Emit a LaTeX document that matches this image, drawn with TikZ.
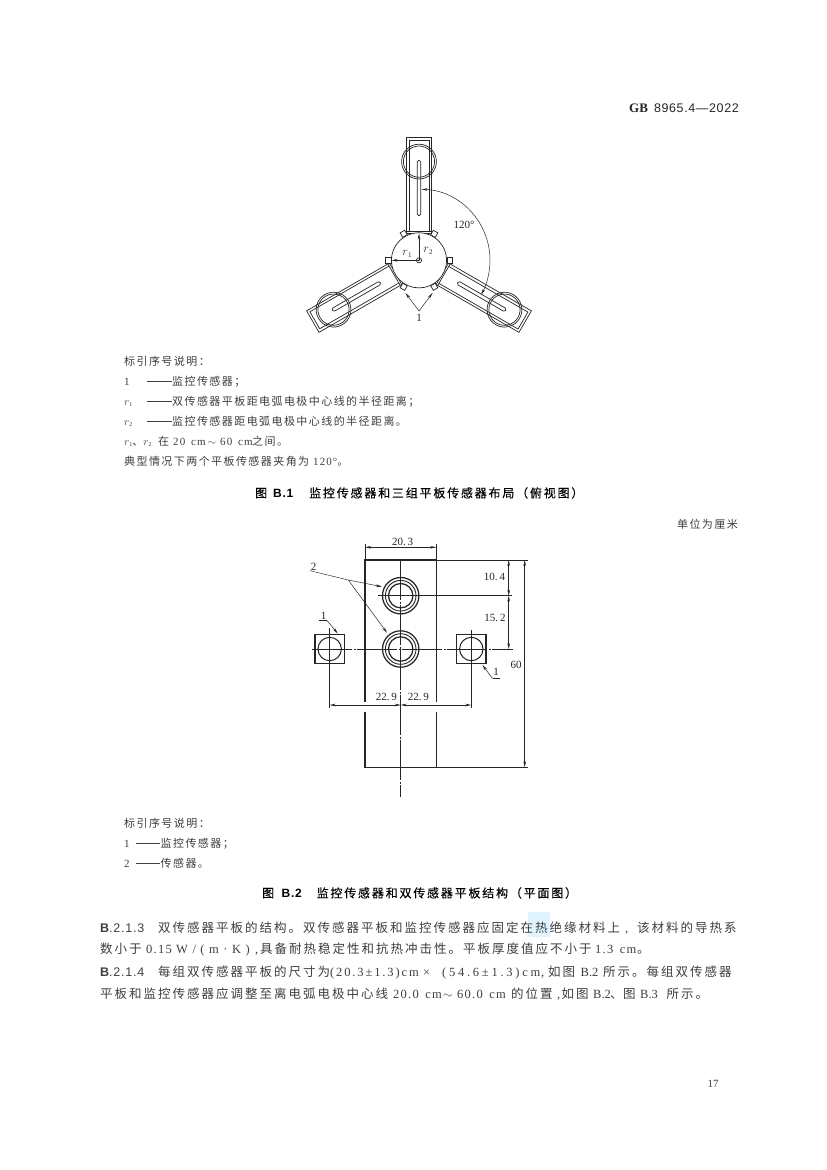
\documentclass[tikz,border=0pt]{standalone}
\usepackage{fontspec}
\setmainfont{Liberation Serif}
\newfontfamily\zhbody[LetterSpace=16]{Noto Sans CJK SC}
\newfontfamily\zhleg[LetterSpace=13]{Noto Sans CJK SC}
\newfontfamily\zhcap[LetterSpace=15,FakeBold=0.25]{Noto Sans CJK SC}
\newfontfamily\latsp[LetterSpace=10,WordSpace=1.3]{Liberation Serif}
\newfontfamily\latmid[LetterSpace=15]{Liberation Serif}
\newfontfamily\latwide[LetterSpace=22]{Liberation Serif}
\newfontfamily\latvw[LetterSpace=36]{Liberation Serif}
\newfontfamily\latleg[LetterSpace=10,WordSpace=1.5]{Liberation Serif}
\newfontfamily\latb[LetterSpace=5]{Liberation Sans}
\newfontfamily\latbb[LetterSpace=6]{Liberation Sans}
\newcommand\zb[1]{{\zhbody #1}}
\newcommand\zl[1]{{\zhleg #1}}
\newcommand\zc[1]{{\zhcap #1}}
\newcommand\ls[1]{{\latsp #1}}
\newcommand\lw[1]{{\latwide #1}}
\newcommand\lgd[1]{{\latleg #1}}
\newcommand\fullcolon{\symbol{"FF1A}}
\newcommand\fullsemi{\symbol{"FF1B}}
\newcommand\fullopen{\symbol{"FF08}}
\newcommand\fullclose{\symbol{"FF09}}
\newcommand\rsub[1]{$r$\raisebox{-1.5pt}{\fontsize{6}{7}\selectfont #1}}
\usetikzlibrary{arrows.meta}
\definecolor{ink}{HTML}{262626}
\definecolor{soft}{HTML}{3E3E3E}
\tikzset{
  ln/.style={draw=ink,line width=0.7pt},
  thin line/.style={draw=ink,line width=0.45pt},
  hv/.style={draw=ink,line width=1.25pt},
  dim/.style={draw=ink,line width=0.5pt,{Stealth[length=6pt,width=2.6pt]}-{Stealth[length=6pt,width=2.6pt]}},
  lead/.style={draw=ink,line width=0.5pt,-{Stealth[length=6pt,width=2.6pt]}},
  cen/.style={draw=ink,line width=0.45pt,dash pattern=on 40pt off 1.5pt on 2pt off 1.5pt},
  bodyt/.style={anchor=base west,inner sep=0,text=soft,font=\fontsize{12.5}{14}\selectfont},
  legt/.style={anchor=base west,inner sep=0,text=soft,font=\fontsize{11}{12}\selectfont},
  capt/.style={anchor=base west,inner sep=0,text=black,font=\fontsize{12}{14}\selectfont},
  lab/.style={inner sep=0,text=ink,font=\fontsize{11}{12}\selectfont},
}
\begin{document}
\begin{tikzpicture}[x=1pt,y=-1pt]
\useasboundingbox (0,0) rectangle (827,1170);
\fill[white] (0,0) rectangle (827,1170);
% header
\node[anchor=base west,inner sep=0,text=ink,font=\fontsize{13}{14}\selectfont\bfseries] (hdr1) at (629,112) {GB};
\node[anchor=base east,inner sep=0,text=ink,font=\fontsize{12.5}{14}\selectfont] (hdr2) at (739,112) {{\latb 8965.4—2022}};
% ---------- Figure B.1
\coordinate (c1) at (419,260.3);
\foreach \a in {0,120,240}{
 \begin{scope}[shift={(c1)},rotate=\a]
  \draw[ln] (-12.4,-27) rectangle (12.4,-122.6);
  \draw[ln] (-9.6,-28.8) -- (-9.6,-120.2) -- (10,-120.2) -- (10,-28.8);
  \draw[ln] (-12.4,-28.8) -- (12.4,-28.8);
  \draw[ln,rounded corners=1.5pt] (-1.8,-100) rectangle (1.8,-44.7);
  \draw[ln] (0,-98.7) circle (17.4);
  \draw[ln] (0,-98.7) circle (15.6);
 \end{scope}
}
\draw[ln,fill=white] (c1) circle (27.6);
\foreach \a in {30,90,150,210,270,330}{
 \begin{scope}[shift={(c1)},rotate=\a+60]
  \draw[ln,fill=white] (-2.6,-33.2) rectangle (2.6,-28);
 \end{scope}
}
\draw[ln] (c1) circle (2.6);
\fill[ink] (c1) circle (0.9);
\coordinate (r1e) at (391.5,260.3);
\coordinate (r2e) at (419,233.5);
\draw[lead] (c1) -- (r1e);
\draw[lead] (c1) -- (r2e);
\node[lab] (r1l) at (407,254) {\fontsize{12}{12}\selectfont$r$\raisebox{-2pt}{\fontsize{7}{8}\selectfont 1}};
\node[lab] (r2l) at (428,251) {\fontsize{12}{12}\selectfont$r$\raisebox{-2pt}{\fontsize{7}{8}\selectfont 2}};
\draw[dim] ([shift={(-88:71)}]c1) arc[start angle=-88,end angle=29,radius=71];
\node[lab] (ang) at (464,225) {120°};
\node[lab] (one) at (419,318) {1};
\coordinate (ja) at (419,311);
\coordinate (jb) at (405.5,293);
\coordinate (jc) at (432.5,293);
\draw[lead] (ja) -- (jb);
\draw[lead] (ja) -- (jc);
% legend 1
\node[legt] (l1) at (124,365) {\zl{标引序号说明\fullcolon}};
\node[legt] (l2a) at (124,385) {1};
\node[legt] (l2d) at (147,385) {\rule[3.2pt]{24.5pt}{0.45pt}};
\node[legt] (l2) at (172,385) {\zl{监控传感器\fullsemi}};
\node[legt] (l3a) at (124,405) {\rsub{1}};
\node[legt] (l3d) at (147,405) {\rule[3.2pt]{24.5pt}{0.45pt}};
\node[legt] (l3) at (172,405) {\zl{双传感器平板距电弧电极中心线的半径距离\fullsemi}};
\node[legt] (l4a) at (124,425) {\rsub{2}};
\node[legt] (l4d) at (147,425) {\rule[3.2pt]{24.5pt}{0.45pt}};
\node[legt] (l4) at (172,425) {\zl{监控传感器距电弧电极中心线的半径距离。}};
\node[legt] (l5a) at (124,445) {\rsub{1}\zl{、}\rsub{2}};
\node[legt] (l5b) at (158,445) {\zl{在}};
\node[legt] (l5c) at (173,445) {\lgd{20 cm}};
\node[legt] (l5d) at (207.5,445) {$\sim$};
\node[legt] (l5e) at (220,445) {\lgd{60 cm}};
\node[legt] (l5f) at (252,445) {\zl{之间。}};
\node[legt] (l6) at (124,465) {\zl{典型情况下两个平板传感器夹角为}};
\node[legt] (l6b) at (313,465) {\lgd{120°}\zl{。}};
\node[capt] (cap1a) at (255,497.5) {\zc{图}};
\node[capt] (cap1b) at (273,497.5) {{\latbb\bfseries B.1}};
\node[capt] (cap1c) at (309,497.5) {\zc{监控传感器和三组平板传感器布局\fullopen 俯视图\fullclose}};
\node[anchor=base east,inner sep=0,text=soft,font=\fontsize{11}{12}\selectfont] (unit) at (738,528) {\zl{单位为厘米}};
% ---------- Figure B.2
\coordinate (cu) at (400.7,595.7);
\coordinate (cl) at (400.7,649);
\coordinate (sl) at (329.7,649);
\coordinate (sr) at (471.3,649);
\draw[hv] (365,702.3) -- (365,560) -- (436.3,560) -- (436.3,702.3);
\draw[hv] (365,711.7) -- (365,767.3) -- (436.3,767.3) -- (436.3,711.7);
\draw[cen] (400.7,560) -- (400.7,796.7);
\draw[cen] (312,649) -- (512.7,649);
\draw[thin line] (378,595.7) -- (511.7,595.7);
\foreach \p in {cu,cl}{
  \draw[hv] (\p) circle (18.2);
  \draw[ln,line width=0.9pt] (\p) circle (15.3);
  \draw[hv] (\p) circle (12.2);
}
\draw[hv] (315,634.3) rectangle (344.3,663.7);
\draw[hv] (456.7,634.3) rectangle (486,663.7);
\draw[hv,line width=1pt] (sl) circle (11.7);
\draw[hv,line width=1pt] (sr) circle (11.7);
\draw[thin line] (329.7,628) -- (329.7,708);
\draw[thin line] (471.3,630) -- (471.3,708);
% dimensions
\draw[thin line] (365,544) -- (365,560);
\draw[thin line] (436.3,544) -- (436.3,560);
\draw[dim] (365,547.3) -- (436.3,547.3);
\node[lab] (d203) at (402.7,541.7) {20.\,3};
\draw[thin line] (436.3,560) -- (527.5,560);
\draw[thin line] (436.3,767.3) -- (528,767.3);
\draw[dim] (524.7,560) -- (524.7,767.3);
\draw[dim] (508.7,560) -- (508.7,595.7);
\draw[dim] (508.7,595.7) -- (508.7,649);
\node[lab] (d104) at (494.5,576.7) {10.\,4};
\node[lab] (d152) at (495,617.7) {15.\,2};
\node[lab] (d60) at (516,664.7) {60};
\draw[dim] (329.7,705) -- (400.7,705);
\draw[dim] (400.7,705) -- (471.3,705);
\node[lab] (d229a) at (386.3,697.3) {22.\,9};
\node[lab] (d229b) at (418.3,697.3) {22.\,9};
% leaders
\node[lab] (n1a) at (323.7,616) {1};
\node[lab] (n1b) at (496,672.3) {1};
\node[lab] (n2) at (313.7,566.5) {2};
\coordinate (a0) at (318.5,620);
\coordinate (a1) at (326.5,620);
\coordinate (a2) at (337.8,633.5);
\draw[thin line] (a0) -- (a1);
\draw[lead] (a1) -- (a2);
\coordinate (b0) at (499.5,678.5);
\coordinate (b1) at (492.5,678.5);
\coordinate (b2) at (482.5,665);
\draw[thin line] (b0) -- (b1);
\draw[lead] (b1) -- (b2);
\coordinate (e0) at (310,570.7);
\coordinate (e1) at (348.3,580);
\coordinate (e2) at (382,586.7);
\coordinate (e3) at (387,632.7);
\draw[thin line] (e0) -- (e1);
\draw[lead] (e1) -- (e2);
\draw[lead] (e1) -- (e3);
% legend 2
\node[legt] (m1) at (124,827) {\zl{标引序号说明\fullcolon}};
\node[legt] (m2a) at (124,847) {1};
\node[legt] (m2d) at (136,847) {\rule[3.2pt]{23.5pt}{0.45pt}};
\node[legt] (m2) at (160.5,847) {\zl{监控传感器\fullsemi}};
\node[legt] (m3a) at (124,867) {2};
\node[legt] (m3d) at (136,867) {\rule[3.2pt]{23.5pt}{0.45pt}};
\node[legt] (m3) at (160.5,867) {\zl{传感器。}};
\node[capt] (cap2a) at (262,897.5) {\zc{图}};
\node[capt] (cap2b) at (281.5,897.5) {{\latbb\bfseries B.2}};
\node[capt] (cap2c) at (316.5,897.5) {\zc{监控传感器和双传感器平板结构\fullopen 平面图\fullclose}};
% body
\fill[blue!35!cyan!12] (528,912) rectangle (550,937);
\node[bodyt] (b1a) at (100,932) {{\latbb\bfseries B}{\latbb .2.1.3}};
\node[bodyt] (b1b) at (158,932) {\zb{双传感器平板的结构。双传感器平板和监控传感器应固定在热绝缘材料上}};
\node[bodyt] (b1c) at (625,932) {\ls{,}};
\node[bodyt] (b1d) at (637,932) {\zb{该材料的导热系}};
\node[bodyt] (b2a) at (100,953.5) {\zb{数小于}};
\node[bodyt] (b2b) at (146,953.5) {\ls{0.15}};
\node[bodyt] (b2c) at (176,953.5) {{\latvw W/(m·K)}};
\node[bodyt] (b2d) at (255,953.5) {\ls{,}};
\node[bodyt] (b2e) at (260,953.5) {\zb{具备耐热稳定性和抗热冲击性。平板厚度值应不小于}};
\node[bodyt] (b2f) at (595,953.5) {\ls{1.3 cm}};
\node[bodyt] (b2g) at (637,953.5) {\zb{。}};
\node[bodyt] (b3a) at (100,976) {{\latbb\bfseries B}{\latbb .2.1.4}};
\node[bodyt] (b3b) at (158,976) {\zb{每组双传感器平板的尺寸为}};
\node[bodyt] (b3c) at (330,976) {{\latmid (20.3±1.3)cm}};
\node[bodyt] (b3d) at (423,976) {\ls{×}};
\node[bodyt] (b3e) at (442,976) {\lw{(54.6±1.3)cm}};
\node[bodyt] (b3f) at (541,976) {\ls{,}};
\node[bodyt] (b3g) at (548,976) {\zb{如图}};
\node[bodyt] (b3h) at (580.5,976) {B.2};
\node[bodyt] (b3i) at (603,976) {\zb{所示。每组双传感器}};
\node[bodyt] (b4a) at (100,998) {\zb{平板和监控传感器应调整至离电弧电极中心线}};
\node[bodyt] (b4b) at (393,998) {\ls{20.0 cm}};
\node[bodyt] (b4c) at (443,998) {$\sim$};
\node[bodyt] (b4d) at (457,998) {\ls{60.0 cm}};
\node[bodyt] (b4e) at (511,998) {\zb{的位置}};
\node[bodyt] (b4f) at (557,998) {\ls{,}};
\node[bodyt] (b4g) at (561.5,998) {\zb{如图}};
\node[bodyt] (b4h) at (593,998) {B.2};
\node[bodyt] (b4i) at (610,998) {\zb{、}};
\node[bodyt] (b4i2) at (623,998) {\zb{图}};
\node[bodyt] (b4j) at (640,998) {B.3};
\node[bodyt] (b4k) at (666.5,998) {\zb{所示。}};
% page number
\node[anchor=base,inner sep=0,text=soft,font=\fontsize{11}{12}\selectfont] (pg) at (713,1087) {17};
\end{tikzpicture}
\end{document}
